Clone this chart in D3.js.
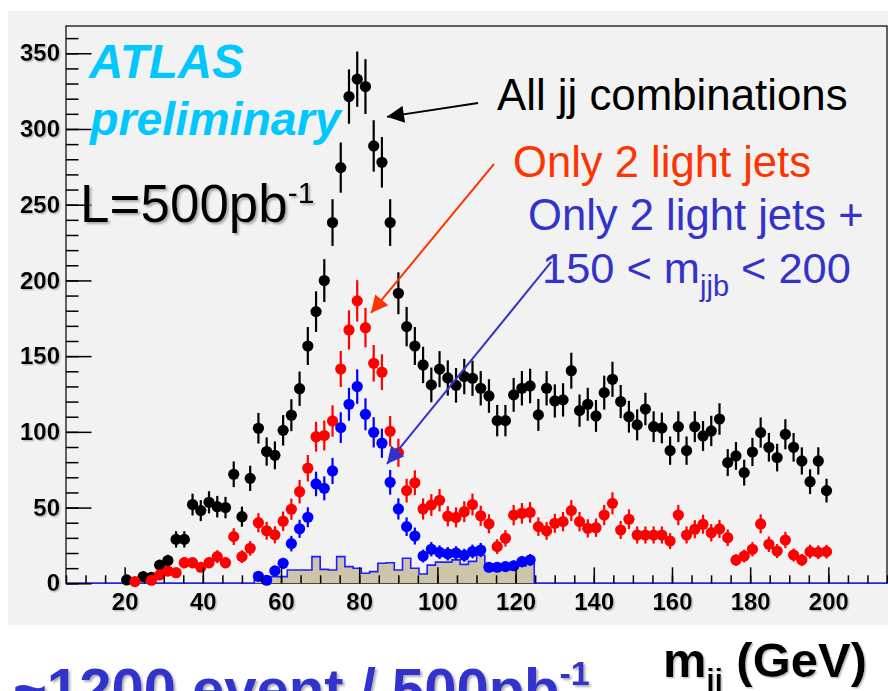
<!DOCTYPE html>
<html>
<head>
<meta charset="utf-8">
<script src="https://cdn.jsdelivr.net/npm/d3@7"></script>
<style>
  html, body { margin: 0; padding: 0; background: #ffffff; }
  svg { display: block; font-family: "Liberation Sans", Arial, Helvetica, sans-serif; }
</style>
</head>
<body>
<svg id="chart" width="888" height="691"></svg>
<script>
// Histogram binning of m_jj (GeV): lower edge of the first bin and bin width
const BIN_LOW = 19.47;
const BIN_WIDTH = 2.106;

// All jj combinations (events per bin), one entry per bin, null = empty bin
const allJJ = [2.2, null, 4.4, 4, 12, 15, 29, 29, 52, 48, 53.5, 50.6, 50, 72, 44, 69.3,
  102.4, 87, 84.5, 101, 111, 128.5, 156.7, 179.4, 199.9, 238.2, 274.5, 321.4, 332.9, 328,
  288.8, 278, 238.2, 191.5, 169.5, 156.7, 144.2, 131, 141.4, 135.6, 130.7, 136.5, 135.4,
  128.8, 123.7, 107.4, 107.4, 124.4, 128.8, 130.3, 111.2, 128.8, 120.4, 121.1, 140.4, 114,
  118.2, 110.5, 125.9, 134.7, 120, 110, 104.6, 115.1, 103.4, 102.6, 87.6, 103.4, 87.6,
  103.4, 97.3, 100.6, 108.5, 79.7, 84.1, 73.1, 86.7, 99.5, 89.8, 83, 98.4, 89.8, 80.8,
  67.1, 80.8, 61.2];

// Only 2 light jets
const twoLight = [null, 1.1, null, 2, 5.5, 8.1, 7, 13.6, 13.6, 10.6, 13.6, 17.6, 13.6, 30.8,
  17.6, 23.1, 40, 34.7, 32, 41, 48.9, 60.5, 76, 96.8, 97.6, 107.2, 141.5, 167.3, 186.5,
  168.8, 145.3, 139.4, 100.4, 86.2, 61.2, 66.4, 49.1, 51.7, 54.8, 44.3, 43.5, 47.3, 52,
  44.6, 39.3, 24.2, 29.7, 45, 46.2, 46.8, 37.4, 34.6, 39.6, 40.7, 48, 40.7, 36.3, 36.7,
  45.1, 52.8, 35.2, 42.3, 31.9, 31.9, 31.9, 31.9, 27.9, 45.1, 31.9, 35.7, 39, 33.4, 35.9,
  30.1, 15.4, 18, 22.5, 39.2, 25.8, 21.3, 28.6, 18.7, 15.4, 20.9, 20.5, 20.9];

// Only 2 light jets + 150 < m_jjb < 200, filled from this bin index on
const CUT_FIRST_BIN = 16;
const twoLightMjjb = [4.6, 2, 8.2, 13.2, 26.2, 36, 43.6, 65.6, 62.7, 74.2, 102.8, 118.2,
  129.9, 111.6, 99.7, 92.5, 66.7, 49.1, 37.4, 31.2, 18, 22.5, 20.5, 19.5, 20, 18.5, 21, 22,
  10.6, 10.6, 11, 11.6, 14.3, 15.4];

// Combinatorial component under the selected sample (filled histogram)
const combinatorial = [2.6, 4.4, 4.4, 4.4, 8.8, 8.8, 8.8, 17.6, 9.2, 8.8, 17.6, 11, 9.9,
  6.6, 7.7, 13.2, 13.6, 8.8, 16.5, 9.9, 6.1, 12, 14, 14, 15.5, 12.5, 14.5, 18.5, 8.8, 8.8,
  8.8, 10, 11.5, 13];

const xTicks = [20, 40, 60, 80, 100, 120, 140, 160, 180, 200];
const yTicks = [0, 50, 100, 150, 200, 250, 300, 350];

const X_RANGE = [5, 215];
const Y_RANGE = [0, 368];

// ---- layout ----
const frame = { left: 66, top: 26, right: 887, bottom: 583.3 };
const svg = d3.select("#chart");
const x = d3.scaleLinear().domain(X_RANGE).range([frame.left, frame.right]);
const y = d3.scaleLinear().domain(Y_RANGE).range([frame.bottom, frame.top]);
const center = i => BIN_LOW + (i + 0.5) * BIN_WIDTH;
const lowEdge = i => BIN_LOW + i * BIN_WIDTH;

const defs = svg.append("defs");
defs.append("filter").attr("id", "shadow")
    .attr("x", "-10%").attr("y", "-20%").attr("width", "130%").attr("height", "150%")
  .append("feDropShadow")
    .attr("dx", 2).attr("dy", 2).attr("stdDeviation", 0.8)
    .attr("flood-color", "#8c8c8c").attr("flood-opacity", 0.7);
defs.append("filter").attr("id", "softshadow")
    .attr("x", "-10%").attr("y", "-20%").attr("width", "130%").attr("height", "150%")
  .append("feDropShadow")
    .attr("dx", 1.5).attr("dy", 1.5).attr("stdDeviation", 0.6)
    .attr("flood-color", "#a0a0a0").attr("flood-opacity", 0.6);

function arrowMarker(id, color) {
  defs.append("marker").attr("id", id)
      .attr("viewBox", "0 0 10 10").attr("refX", 10).attr("refY", 5)
      .attr("markerUnits", "userSpaceOnUse")
      .attr("markerWidth", 21).attr("markerHeight", 17).attr("orient", "auto")
    .append("path").attr("d", "M0,0 L10,5 L0,10 Z").attr("fill", color);
}
arrowMarker("arrowBlack", "#000000");
arrowMarker("arrowRed", "#ff3300");
arrowMarker("arrowBlue", "#3333cc");

// canvas pad
svg.append("rect").attr("x", 8).attr("y", 11).attr("width", 880).attr("height", 614)
   .attr("fill", "#f2f2f2");

// frame
svg.append("rect")
   .attr("x", frame.left).attr("y", frame.top)
   .attr("width", frame.right - frame.left).attr("height", frame.bottom - frame.top)
   .attr("fill", "#f2f2f2").attr("stroke", "#111").attr("stroke-width", 1.3);

// ---- combinatorial step histogram ----
const histPts = [{ e: X_RANGE[0], v: 0 }];
combinatorial.forEach((v, k) => histPts.push({ e: lowEdge(CUT_FIRST_BIN + k), v }));
histPts.push({ e: lowEdge(CUT_FIRST_BIN + combinatorial.length), v: 0 });
histPts.push({ e: X_RANGE[1], v: 0 });

svg.append("path").datum(histPts)
   .attr("fill", "#ccc5a8")
   .attr("d", d3.area().curve(d3.curveStepAfter).x(d => x(d.e)).y0(y(0)).y1(d => y(d.v)));
svg.append("path").datum(histPts)
   .attr("fill", "none").attr("stroke", "#1f1fff").attr("stroke-width", 1.6)
   .attr("d", d3.line().curve(d3.curveStepAfter).x(d => x(d.e)).y(d => y(d.v)));

// ---- data points with Poisson error bars ----
function drawSeries(values, firstBin, color) {
  const pts = values.map((v, k) => ({ i: firstBin + k, v })).filter(d => d.v != null);
  const g = svg.append("g");
  g.append("g").selectAll("line").data(pts).join("line")
    .attr("x1", d => x(center(d.i))).attr("x2", d => x(center(d.i)))
    .attr("y1", d => y(Math.max(0, d.v - Math.sqrt(d.v))))
    .attr("y2", d => y(d.v + Math.sqrt(d.v)))
    .attr("stroke", color).attr("stroke-width", 2.2);
  g.append("g").selectAll("line").data(pts).join("line")
    .attr("x1", d => x(lowEdge(d.i))).attr("x2", d => x(lowEdge(d.i + 1)))
    .attr("y1", d => y(d.v)).attr("y2", d => y(d.v))
    .attr("stroke", color).attr("stroke-width", 2);
  g.append("g").selectAll("circle").data(pts).join("circle")
    .attr("cx", d => x(center(d.i))).attr("cy", d => y(d.v))
    .attr("r", 5.6).attr("fill", color);
}
drawSeries(allJJ, 0, "#000000");
drawSeries(twoLight, 0, "#ff0000");
drawSeries(twoLightMjjb, CUT_FIRST_BIN, "#0000ff");

// ---- axes (ticks pointing into the frame) ----
const axisFont = g => g.attr("font-family", "\"Liberation Sans\", Arial, sans-serif")
  .attr("font-size", 24).attr("font-weight", "bold");

const xMinor = d3.range(X_RANGE[0], X_RANGE[1] + 0.1, 5);
svg.append("g").attr("transform", `translate(0,${frame.bottom})`)
  .call(d3.axisBottom(x).tickValues(xMinor).tickSize(-8).tickFormat(""))
  .call(g => g.select(".domain").remove())
  .call(g => g.selectAll("line").attr("stroke", "#000").attr("stroke-width", 1.5));
svg.append("g").attr("transform", `translate(0,${frame.bottom})`)
  .call(d3.axisBottom(x).tickValues(xTicks).tickSizeInner(-16).tickSizeOuter(0).tickPadding(10))
  .call(axisFont)
  .call(g => g.select(".domain").remove())
  .call(g => g.selectAll("line").attr("stroke", "#000").attr("stroke-width", 1.5))
  .call(g => g.selectAll("text").attr("fill", "#000").attr("filter", "url(#softshadow)"));

const yMinor = d3.range(0, Y_RANGE[1], 10);
svg.append("g").attr("transform", `translate(${frame.left},0)`)
  .call(d3.axisLeft(y).tickValues(yMinor).tickSize(-12.5).tickFormat(""))
  .call(g => g.select(".domain").remove())
  .call(g => g.selectAll("line").attr("stroke", "#000").attr("stroke-width", 1.5));
svg.append("g").attr("transform", `translate(${frame.left},0)`)
  .call(d3.axisLeft(y).tickValues(yTicks).tickSizeInner(-25.5).tickSizeOuter(0).tickPadding(6))
  .call(axisFont)
  .call(g => g.select(".domain").remove())
  .call(g => g.selectAll("line").attr("stroke", "#000").attr("stroke-width", 1.5))
  .call(g => g.selectAll("text").attr("fill", "#000").attr("filter", "url(#softshadow)"));

// ---- labels ----
svg.append("text").attr("x", 89).attr("y", 78)
   .attr("font-size", 47.5).attr("font-weight", "bold").attr("font-style", "italic")
   .attr("fill", "#00c8ff").text("ATLAS");
svg.append("text").attr("x", 90).attr("y", 135)
   .attr("font-size", 46.5).attr("font-weight", "bold").attr("font-style", "italic")
   .attr("fill", "#00c8ff").text("preliminary");

const lumi = svg.append("text").attr("x", 80).attr("y", 222)
   .attr("font-size", 53).attr("fill", "#000").attr("filter", "url(#shadow)");
lumi.append("tspan").text("L=500pb");
lumi.append("tspan").attr("dy", -19).attr("font-size", 30).text("-1");

svg.append("text").attr("x", 497).attr("y", 110).attr("font-size", 43.8)
   .attr("fill", "#000").text("All jj combinations");
svg.append("text").attr("x", 513).attr("y", 177).attr("font-size", 43.6)
   .attr("fill", "#ff3300").text("Only 2 light jets");
svg.append("text").attr("x", 528).attr("y", 230).attr("font-size", 43.6)
   .attr("fill", "#3333cc").text("Only 2 light jets +");
const cut = svg.append("text").attr("x", 542).attr("y", 283).attr("font-size", 43.4)
   .attr("fill", "#3333cc");
cut.append("tspan").text("150 < m");
cut.append("tspan").attr("dy", 13).attr("font-size", 29).text("jjb");
cut.append("tspan").attr("dy", -13).text(" < 200");

// axis title
const xt = svg.append("text").attr("x", 663).attr("y", 677)
   .attr("font-size", 49).attr("font-weight", "bold").attr("fill", "#000")
   .attr("filter", "url(#softshadow)");
xt.append("tspan").text("m");
xt.append("tspan").attr("dy", 13).attr("font-size", 29).text("jj");
xt.append("tspan").attr("dy", -13).text(" (GeV)");

// event yield line below the plot
const yieldText = svg.append("text").attr("x", 13).attr("y", 709)
   .attr("font-size", 58).attr("font-weight", "bold").attr("fill", "#3333cc")
   .attr("filter", "url(#shadow)");
yieldText.append("tspan").text("~1200 event / 500pb");
yieldText.append("tspan").attr("dy", -24).attr("font-size", 34).text("-1");

// ---- annotation arrows (tail and tip in data coordinates) ----
const arrows = [
  { from: [110.4, 317.2], to: [87.1, 308.0], color: "#000000", marker: "arrowBlack" },
  { from: [114.5, 277.0], to: [83.0, 178.5], color: "#ff3300", marker: "arrowRed" },
  { from: [129.1, 212.2], to: [87.1, 78.8], color: "#3333cc", marker: "arrowBlue" }
];
svg.append("g").selectAll("line").data(arrows).join("line")
   .attr("x1", d => x(d.from[0])).attr("y1", d => y(d.from[1]))
   .attr("x2", d => x(d.to[0])).attr("y2", d => y(d.to[1]))
   .attr("stroke", d => d.color).attr("stroke-width", 2)
   .attr("marker-end", d => `url(#${d.marker})`);
</script>
</body>
</html>
